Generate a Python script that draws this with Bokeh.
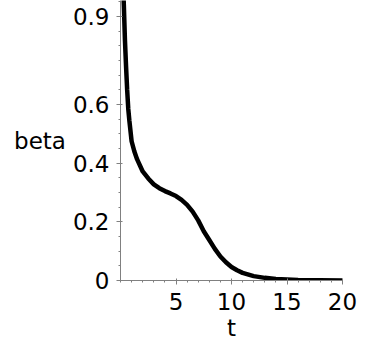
from bokeh.plotting import figure
from bokeh.models import FixedTicker, Range1d
from bokeh.embed import file_html
from bokeh.resources import INLINE

# data
t_vals = [0.1, 0.2, 0.3, 0.4, 0.5, 0.6, 0.7, 0.8, 1.0, 1.25, 1.5, 2.0, 2.5, 3.0, 3.5,
          4.0, 4.5, 5.0, 5.5, 6.0, 6.5, 7.0, 7.5, 8.0, 8.5, 9.0, 9.5, 10.0, 10.5,
          11.0, 12.0, 13.0, 14.0, 16.0, 18.0, 20.0]
beta_vals = [1.25, 1.05, 0.94, 0.82, 0.73, 0.65, 0.585, 0.545, 0.475, 0.44, 0.413,
             0.372, 0.348, 0.328, 0.315, 0.305, 0.297, 0.288, 0.275, 0.258, 0.235,
             0.205, 0.168, 0.138, 0.108, 0.082, 0.062, 0.046, 0.035, 0.026, 0.015,
             0.009, 0.005, 0.002, 0.001, 0.0]
x_ticks = [5, 10, 15, 20]
x_minor = list(range(0, 21))
y_ticks = [0, 0.2, 0.4, 0.6, 0.9]
y_tick_labels = ["0", "0.2", "0.4", "0.6", "0.9"]
y_minor = [i * 0.05 for i in range(0, 20)]

FONT = "DejaVu Sans"
FS = "23px"

p = figure(width=358, height=343, output_backend="svg", toolbar_location=None,
           x_range=Range1d(0, 20), y_range=Range1d(0, 0.955),
           min_border_left=120, min_border_right=16, min_border_top=0,
           min_border_bottom=62)
p.outline_line_color = None
p.xgrid.visible = False
p.ygrid.visible = False

p.line(t_vals, beta_vals, line_color="black", line_width=4.5)

for ax in (p.xaxis[0], p.yaxis[0]):
    ax.axis_line_color = "#808080"
    ax.major_tick_line_color = "#808080"
    ax.minor_tick_line_color = "#808080"
    ax.major_tick_out = 4
    ax.major_tick_in = 2
    ax.minor_tick_out = 2
    ax.minor_tick_in = 0
    ax.major_label_text_font = FONT
    ax.major_label_text_font_size = FS
    ax.major_label_text_color = "black"
    ax.axis_label_text_font = FONT
    ax.axis_label_text_font_size = FS
    ax.axis_label_text_font_style = "normal"
    ax.axis_label_text_color = "black"

p.xaxis.ticker = FixedTicker(ticks=x_ticks, minor_ticks=x_minor)
p.yaxis.ticker = FixedTicker(ticks=y_ticks, minor_ticks=y_minor)
p.yaxis.major_label_overrides = {v: s for v, s in zip(y_ticks, y_tick_labels)}
p.xaxis.axis_label = "t"
p.xaxis.axis_label_standoff = 2
p.xaxis.major_label_standoff = 8
p.yaxis.major_label_standoff = 7
p.yaxis.axis_label = "beta"
p.yaxis.axis_label_orientation = "horizontal"
p.yaxis.axis_label_standoff = 4

open("out.html", "w").write(file_html(p, INLINE))
